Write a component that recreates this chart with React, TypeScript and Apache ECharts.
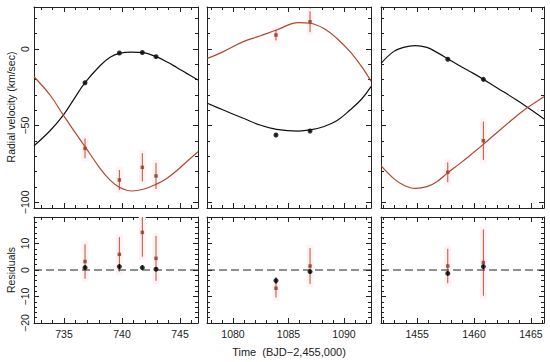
import React, { useEffect, useRef } from "react";
import * as echarts from "echarts";

// ---------- data ----------
const xRanges = [
  [732.41, 746.55],
  [1077.66, 1092.43],
  [1451.82, 1466.15],
];
const xMajorTicks = [
  [735, 740, 745],
  [1080, 1085, 1090],
  [1455, 1460, 1465],
];
const rvRange = [-103.7, 27.4];
const resRange = [-20, 20];
const rvMajorTicks = [-100, -50, 0];
const rvLabels = [-100, -50, 0];
const resMajorTicks = [-20, -10, 0, 10, 20];
const resLabels = [-20, -10, 0, 10];

// observation epochs per panel (BJD - 2,455,000)
const obsTimes = [
  [736.81, 739.77, 741.75, 742.93],
  [1083.87, 1086.94],
  [1457.69, 1460.82],
];
const rvPrimary = [
  [-22.0, -2.6, -2.3, -5.0],
  [-56.1, -53.5],
  [-6.7, -19.8],
];
const rvPrimaryErr = [
  [0.8, 0.8, 0.8, 0.8],
  [0.8, 0.8],
  [0.8, 0.8],
];
const rvSecondary = [
  [-64.8, -85.4, -77.2, -82.8],
  [9.1, 17.8],
  [-80.4, -59.8],
];
const rvSecondaryErr = [
  [6.5, 6.5, 9.2, 8.5],
  [3.5, 6.8],
  [6.5, 12.5],
];
const resPrimary = [
  [0.9, 1.3, 0.9, 0.3],
  [-4.0, -0.6],
  [-1.3, 1.3],
];
const resPrimaryErr = [
  [0.8, 0.8, 0.8, 0.8],
  [1.2, 0.8],
  [0.8, 0.8],
];
const resSecondary = [
  [3.2, 5.9, 14.2, 4.4],
  [-6.9, 1.5],
  [1.5, 2.8],
];

// orbital model curves
const modelTimes = [
  [732.41, 733.79, 734.94, 735.8, 736.81, 738.1, 738.97, 739.77, 740.83, 741.84, 742.93, 743.85, 744.71, 745.57, 746.55],
  [1077.69, 1079.13, 1080.93, 1082.43, 1083.93, 1085.89, 1086.94, 1088.14, 1089.34, 1090.54, 1091.59, 1092.43],
  [1451.82, 1452.92, 1453.8, 1454.82, 1455.85, 1456.73, 1457.69, 1458.77, 1459.94, 1460.82, 1462.28, 1463.74, 1464.53, 1466.15],
];
const modelPrimary = [
  [-63.1, -53.3, -43.1, -33.3, -22.0, -10.9, -5.4, -2.8, -2.0, -2.4, -5.0, -8.3, -12.0, -15.9, -20.2],
  [-35.4, -39.8, -45.2, -49.6, -52.4, -53.5, -52.8, -50.7, -46.8, -39.8, -32.6, -24.5],
  [-9.4, -1.7, 1.1, 2.2, 1.1, -2.2, -6.3, -11.1, -15.9, -19.8, -26.5, -33.3, -37.2, -45.6],
];
const modelSecondary = [
  [-18.1, -30.0, -43.1, -52.8, -63.7, -77.8, -85.5, -90.2, -92.6, -91.5, -88.3, -84.4, -79.4, -73.5, -67.0],
  [-6.1, -1.7, 4.8, 8.5, 12.4, 17.2, 16.8, 13.5, 7.0, -1.7, -11.5, -21.0],
  [-76.1, -84.4, -88.7, -90.9, -89.8, -86.5, -80.7, -74.6, -67.6, -62.2, -52.8, -43.7, -39.1, -31.1],
];

// ---------- styling ----------
const FONT = "'Liberation Sans', Arial, Helvetica, sans-serif";
const AX = "#222";
const BLACK = "#111";
const RED = "#b3472b";
const REDBAR = "#b5562e";
const REDPT = "#8a3a1e";

const GRID_LEFT = [34, 207, 381];
const GRID_W = [164, 164, 163];
const ROW_TOP = [7, 217];
const ROW_H = [201, 106];

function intTicks(a: number, b: number, step: number) {
  const out: number[] = [];
  for (let v = Math.ceil(a / step) * step; v <= b + 1e-9; v += step) out.push(Math.round(v * 1000) / 1000);
  return out;
}

const fmt = (v: number) => String(v).replace("-", "\u2212");

function errorBarSeries(xi: number, yi: number, data: number[][], color: string, halo: boolean) {
  return {
    type: "custom",
    xAxisIndex: xi,
    yAxisIndex: yi,
    data,
    silent: true,
    renderItem: (params: any, api: any) => {
      const x = api.value(0);
      const y = api.value(1);
      const e = api.value(2);
      const cs = params.coordSys;
      const a = api.coord([x, y - e]);
      const b = api.coord([x, y + e]);
      const top = Math.max(cs.y, Math.min(a[1], b[1]));
      const bot = Math.min(cs.y + cs.height, Math.max(a[1], b[1]));
      const children: any[] = [];
      if (halo) {
        const ht = Math.max(cs.y, top - 3);
        const hb = Math.min(cs.y + cs.height, bot + 3);
        children.push({
          type: "rect",
          shape: { x: a[0] - 3.5, y: ht, width: 7, height: hb - ht },
          style: { fill: "#fef2f6" },
        });
      }
      children.push({
        type: "line",
        shape: { x1: a[0], y1: top, x2: a[0], y2: bot },
        style: { stroke: color, lineWidth: 1 },
      });
      return { type: "group", children };
    },
  };
}

function buildOption() {
  const grid: any[] = [];
  const xAxis: any[] = [];
  const yAxis: any[] = [];
  const series: any[] = [];

  for (let row = 0; row < 2; row++) {
    for (let p = 0; p < 3; p++) {
      const g = row * 3 + p;
      grid.push({ left: GRID_LEFT[p], top: ROW_TOP[row], width: GRID_W[p], height: ROW_H[row], containLabel: false });
      const [xmin, xmax] = xRanges[p];
      const [ymin, ymax] = row === 0 ? rvRange : resRange;
      const xMinor = intTicks(xmin, xmax, 1);
      const yMajor = row === 0 ? rvMajorTicks : resMajorTicks;
      const yMinor = intTicks(ymin, ymax, row === 0 ? 10 : 2);
      const yLab = row === 0 ? rvLabels : resLabels;

      const baseX = {
        type: "value",
        gridIndex: g,
        min: xmin,
        max: xmax,
        splitLine: { show: false },
        axisLine: { show: false, onZero: false },
        axisLabel: { show: false },
        axisTick: { show: false },
      };
      const baseY = {
        type: "value",
        gridIndex: g,
        min: ymin,
        max: ymax,
        splitLine: { show: false },
        axisLine: { show: false, onZero: false },
        axisLabel: { show: false },
        axisTick: { show: false },
      };
      const line = { show: true, onZero: false, lineStyle: { color: AX, width: 1 } };
      const tick = (len: number, vals: number[]) => ({
        show: true,
        inside: true,
        length: len,
        customValues: vals,
        lineStyle: { color: AX, width: 1 },
      });

      const mainX = xAxis.length;
      xAxis.push({
        ...baseX,
        position: "bottom",
        axisLine: line,
        axisTick: tick(5, xMajorTicks[p]),
        axisLabel: {
          show: row === 1,
          customValues: xMajorTicks[p],
          formatter: fmt,
          fontSize: 10.5,
          color: AX,
          margin: 5,
          fontFamily: FONT,
        },
      });
      xAxis.push({ ...baseX, position: "bottom", axisTick: tick(3, xMinor) });
      xAxis.push({ ...baseX, position: "top", axisLine: line, axisTick: tick(5, xMajorTicks[p]) });
      xAxis.push({ ...baseX, position: "top", axisTick: tick(3, xMinor) });

      const mainY = yAxis.length;
      yAxis.push({
        ...baseY,
        position: "left",
        axisLine: line,
        axisTick: tick(5, yMajor),
        axisLabel: {
          show: p === 0,
          customValues: yLab,
          formatter: fmt,
          rotate: 90,
          fontSize: 10.5,
          color: AX,
          margin: 4,
          fontFamily: FONT,
        },
      });
      yAxis.push({ ...baseY, position: "left", axisTick: tick(3, yMinor) });
      yAxis.push({ ...baseY, position: "right", axisLine: line, axisTick: tick(5, yMajor) });
      yAxis.push({ ...baseY, position: "right", axisTick: tick(3, yMinor) });

      const t = obsTimes[p];
      if (row === 0) {
        series.push(
          errorBarSeries(mainX, mainY, t.map((x, i) => [x, rvSecondary[p][i], rvSecondaryErr[p][i]]), REDBAR, true)
        );
        series.push(
          errorBarSeries(mainX, mainY, t.map((x, i) => [x, rvPrimary[p][i], rvPrimaryErr[p][i]]), BLACK, false)
        );
        series.push({
          type: "line",
          xAxisIndex: mainX,
          yAxisIndex: mainY,
          data: modelTimes[p].map((x, i) => [x, modelPrimary[p][i]]),
          showSymbol: false,
          smooth: 0.4,
          clip: true,
          lineStyle: { color: BLACK, width: 1.2 },
          silent: true,
        });
        series.push({
          type: "line",
          xAxisIndex: mainX,
          yAxisIndex: mainY,
          data: modelTimes[p].map((x, i) => [x, modelSecondary[p][i]]),
          showSymbol: false,
          smooth: 0.4,
          clip: true,
          lineStyle: { color: RED, width: 1.2 },
          silent: true,
        });
        series.push({
          type: "scatter",
          xAxisIndex: mainX,
          yAxisIndex: mainY,
          data: t.map((x, i) => [x, rvPrimary[p][i]]),
          symbol: "circle",
          symbolSize: 5,
          itemStyle: { color: "#000" },
          silent: true,
        });
        series.push({
          type: "scatter",
          xAxisIndex: mainX,
          yAxisIndex: mainY,
          data: t.map((x, i) => [x, rvSecondary[p][i]]),
          symbol: "rect",
          symbolSize: 3.5,
          itemStyle: { color: REDPT },
          silent: true,
        });
      } else {
        series.push({
          type: "line",
          xAxisIndex: mainX,
          yAxisIndex: mainY,
          data: [
            [xmin, 0],
            [xmax, 0],
          ],
          showSymbol: false,
          lineStyle: { color: AX, width: 1, type: [8, 4] },
          silent: true,
        });
        series.push(
          errorBarSeries(mainX, mainY, t.map((x, i) => [x, resSecondary[p][i], rvSecondaryErr[p][i]]), REDBAR, true)
        );
        series.push(
          errorBarSeries(mainX, mainY, t.map((x, i) => [x, resPrimary[p][i], resPrimaryErr[p][i]]), BLACK, false)
        );
        series.push({
          type: "scatter",
          xAxisIndex: mainX,
          yAxisIndex: mainY,
          data: t.map((x, i) => [x, resPrimary[p][i]]),
          symbol: "circle",
          symbolSize: 5,
          itemStyle: { color: "#000" },
          silent: true,
        });
        series.push({
          type: "scatter",
          xAxisIndex: mainX,
          yAxisIndex: mainY,
          data: t.map((x, i) => [x, resSecondary[p][i]]),
          symbol: "rect",
          symbolSize: 3.5,
          itemStyle: { color: REDPT },
          silent: true,
        });
      }
    }
  }

  return {
    animation: false,
    backgroundColor: "#fff",
    grid,
    xAxis,
    yAxis,
    series,
    graphic: [
      {
        type: "text",
        x: 11,
        y: 107,
        rotation: Math.PI / 2,
        style: {
          text: "Radial velocity (km/sec)",
          fontSize: 10.5,
          fontFamily: FONT,
          fill: AX,
          align: "center",
          verticalAlign: "middle",
        },
      },
      {
        type: "text",
        x: 11,
        y: 270,
        rotation: Math.PI / 2,
        style: {
          text: "Residuals",
          fontSize: 10.5,
          fontFamily: FONT,
          fill: AX,
          align: "center",
          verticalAlign: "middle",
        },
      },
      {
        type: "text",
        x: 289,
        y: 352,
        style: {
          text: "Time  (BJD\u22122,455,000)",
          fontSize: 11,
          fontFamily: FONT,
          fill: AX,
          align: "center",
          verticalAlign: "middle",
        },
      },
    ],
  };
}

export default function App() {
  const ref = useRef<HTMLDivElement>(null);
  useEffect(() => {
    if (!ref.current) return;
    const chart = echarts.init(ref.current, undefined, { renderer: "svg" });
    chart.setOption(buildOption() as any);
    return () => chart.dispose();
  }, []);
  return (
    <div
      ref={ref}
      style={{ position: "fixed", left: 0, top: 0, width: 550, height: 362, background: "#fff" }}
    />
  );
}
